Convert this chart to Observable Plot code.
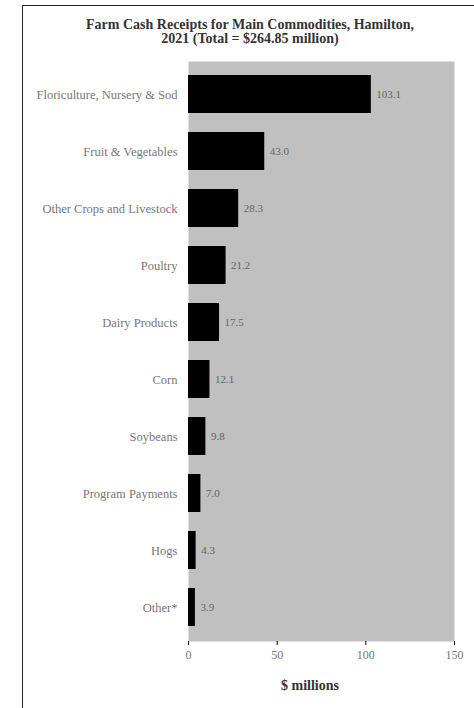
<!DOCTYPE html>
<html>
<head>
<meta charset="utf-8">
<script src="https://cdn.jsdelivr.net/npm/d3@7"></script>
<script src="https://cdn.jsdelivr.net/npm/@observablehq/plot@0.6"></script>
<style>
  html, body { margin: 0; padding: 0; background: #fff; overflow: hidden; }
  #wrap { position: relative; width: 474px; height: 708px; overflow: hidden; font-family: "Liberation Serif", "DejaVu Serif", serif; }
  #border { position: absolute; left: 22px; top: 5px; width: 800px; height: 800px; border: 1.5px solid #222; box-sizing: border-box; }
  #title { position: absolute; left: 23px; top: 18px; width: 454px; text-align: center; font-weight: bold; font-size: 14px; line-height: 14px; color: #333; }
  #xlabel { position: absolute; left: 250px; top: 678px; width: 120px; text-align: center; font-weight: bold; font-size: 14px; color: #333; }
  #chart { position: absolute; left: 0; top: 0; }
</style>
</head>
<body>
<div id="wrap">
  <div id="border"></div>
  <div id="chart"></div>
  <div id="title">Farm Cash Receipts for Main Commodities, Hamilton,<br>2021 (Total = $264.85 million)</div>
  <div id="xlabel">$ millions</div>
</div>
<script>
const categories = [
  "Floriculture, Nursery & Sod",
  "Fruit & Vegetables",
  "Other Crops and Livestock",
  "Poultry",
  "Dairy Products",
  "Corn",
  "Soybeans",
  "Program Payments",
  "Hogs",
  "Other*"
];
const values = [103.1, 43.0, 28.3, 21.2, 17.5, 12.1, 9.8, 7.0, 4.3, 3.9];
const xTicks = [0, 50, 100, 150];

const data = categories.map((c, i) => ({category: c, value: values[i]}));

const chart = Plot.plot({
  width: 474,
  height: 708,
  marginTop: 61,
  marginBottom: 67,
  marginLeft: 188,
  marginRight: 20,
  style: {fontFamily: "'Liberation Serif', 'DejaVu Serif', serif", background: "transparent", overflow: "visible"},
  x: {domain: [0, 150]},
  y: {domain: categories, paddingInner: 0.33, paddingOuter: 0.17},
  marks: [
    Plot.frame({fill: "#c0c0c0", stroke: null}),
    Plot.barX(data, {x: "value", y: "category", fill: "#000"}),
    Plot.text(data, {x: "value", y: "category", text: d => d.value.toFixed(1), dx: 5, textAnchor: "start", fill: "#666", fontSize: 11}),
    Plot.axisY({tickSize: 0, tickPadding: 11, fontSize: 12.5, fill: "#777", label: null}),
    Plot.axisX({ticks: xTicks, tickFormat: d => d, tickSize: 4, tickPadding: 5, fontSize: 12, fill: "#777", stroke: "#000", label: null}),
    Plot.ruleY([0], {frameAnchor: "bottom", stroke: "#000", strokeWidth: 1.2})
  ]
});
document.getElementById("chart").appendChild(chart);
</script>
</body>
</html>
